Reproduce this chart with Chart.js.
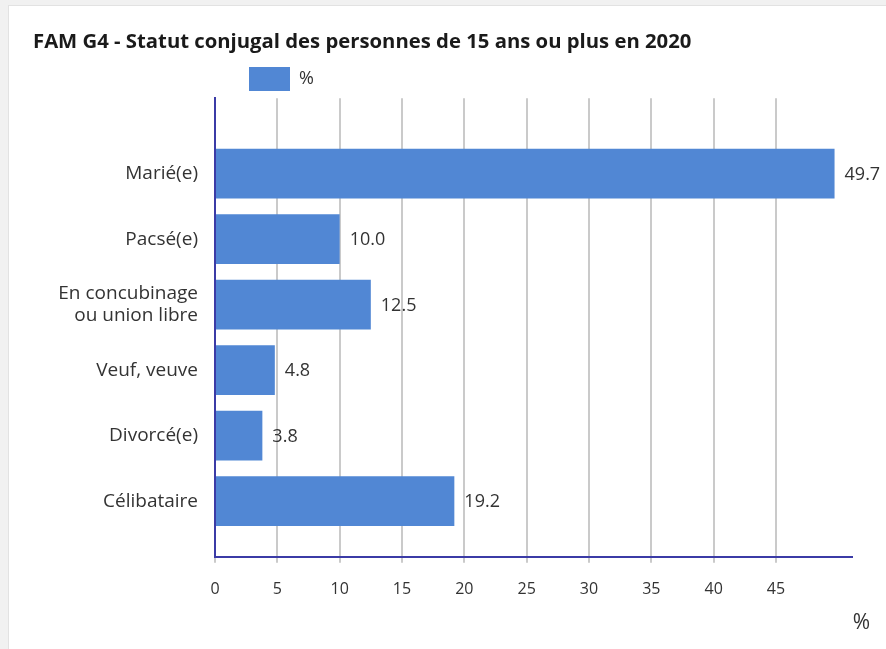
<!DOCTYPE html>
<html lang="fr">
<head>
<meta charset="utf-8">
<script src="https://cdn.jsdelivr.net/npm/chart.js@4.4.1/dist/chart.umd.min.js"></script>
<style>
    html, body { margin: 0; padding: 0; }
    body { width: 886px; height: 649px; background: #f1f1f1; overflow: hidden; position: relative; font-family: 'Open Sans', sans-serif; }
    .card { position: absolute; left: 8px; top: 5px; width: 900px; height: 700px; background: #fff; border: 1px solid #e2e2e2; }
    #wrap { position: absolute; left: 0; top: 0; width: 886px; height: 649px; }
</style>
</head>
<body>
<div class="card"></div>
<div id="wrap"><canvas id="statutChart"></canvas></div>
<script>
// Chart data
const categories = ['Marié(e)', 'Pacsé(e)', ['En concubinage', 'ou union libre'], 'Veuf, veuve', 'Divorcé(e)', 'Célibataire'];
const percentValues = [49.7, 10.0, 12.5, 4.8, 3.8, 19.2];
const seriesLabel = '%';
const axisUnit = '%';
const chartTitle = 'FAM G4 - Statut conjugal des personnes de 15 ans ou plus en 2020';
const lastTick = 45;

const colors = {
    bar: '#5187d4',
    axis: '#3b3ba6',
    grid: '#cacaca',
    text: '#333333',
    title: '#1a1a1a'
};
const fontFamily = "'Open Sans', 'Noto Sans', sans-serif";

// Values printed at the end of each bar, plus the unit under the x axis
const labelPlugin = {
    id: 'barValues',
    afterLayout(chart) {
        // put the legend where the original has it
        const lg = chart.legend;
        lg.left = 239;
        lg.top = 57;
    },
    afterDraw(chart) {
        const ctx = chart.ctx;
        const meta = chart.getDatasetMeta(0);
        ctx.save();
        ctx.font = '18px ' + fontFamily;
        ctx.fillStyle = colors.text;
        ctx.textAlign = 'left';
        ctx.textBaseline = 'middle';
        meta.data.forEach(function (bar, i) {
            ctx.fillText(percentValues[i].toFixed(1), bar.x + 10, bar.y + 1);
        });
        const xScale = chart.scales.x;
        ctx.font = '21px ' + fontFamily;
        ctx.textAlign = 'right';
        ctx.fillText(axisUnit, xScale.right + 18, 623);
        ctx.restore();
    }
};

const statutChart = new Chart(document.getElementById('statutChart'), {
    type: 'bar',
    data: {
        labels: categories,
        datasets: [{
            label: seriesLabel,
            data: percentValues,
            backgroundColor: colors.bar,
            borderWidth: 0,
            categoryPercentage: 1,
            barPercentage: 0.76
        }]
    },
    options: {
        indexAxis: 'y',
        responsive: true,
        maintainAspectRatio: false,
        animation: false,
        layout: {
            padding: { left: 33, top: 20, right: 34, bottom: 33 }
        },
        plugins: {
            title: {
                display: true,
                text: chartTitle,
                align: 'start',
                color: colors.title,
                font: { family: fontFamily, size: 20.3, weight: 'bold' },
                padding: { top: 10, bottom: 0 }
            },
            legend: {
                display: true,
                position: 'top',
                align: 'start',
                labels: {
                    boxWidth: 41,
                    boxHeight: 24,
                    padding: 10,
                    color: colors.text,
                    font: { family: fontFamily, size: 18 }
                }
            },
            tooltip: { enabled: false }
        },
        scales: {
            x: {
                min: 0,
                max: 51.1,
                z: 1,
                grid: {
                    color: colors.grid,
                    lineWidth: 2,
                    tickLength: 6
                },
                border: { color: colors.axis, width: 2 },
                ticks: {
                    stepSize: 5,
                    includeBounds: false,
                    padding: 17,
                    color: colors.text,
                    font: { family: fontFamily, size: 16 }
                },
                afterBuildTicks: function (scale) {
                    scale.ticks = scale.ticks.filter(t => t.value <= lastTick);
                }
            },
            y: {
                z: 1,
                grid: { display: false },
                border: { color: colors.axis, width: 2 },
                ticks: {
                    padding: 9,
                    color: colors.text,
                    font: { family: fontFamily, size: 19 }
                },
                afterFit: function (scale) {
                    scale.width = 182;
                },
                afterBuildTicks: function (scale) {
                    // leave more room above the first bar than below the last one
                    scale._startValue = -1.15;
                    scale._valueRange = 7;
                }
            }
        }
    },
    plugins: [labelPlugin]
});
</script>
</body>
</html>
